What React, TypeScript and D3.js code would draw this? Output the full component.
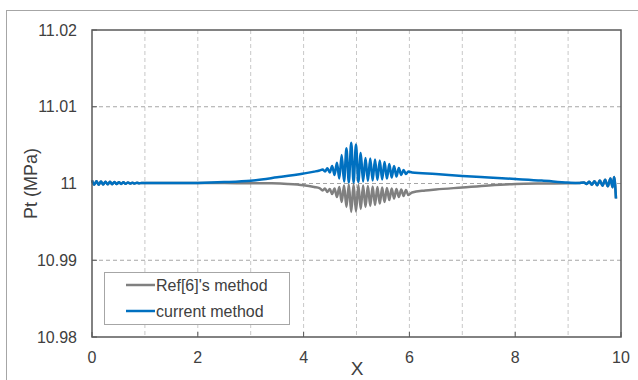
import React from "react";
import * as d3 from "d3";

// ---- data ----
const xTicks = [0, 2, 4, 6, 8, 10];
const xGrid = [1, 2, 3, 4, 5, 6, 7, 8, 9];
const yTicks = [10.98, 10.99, 11, 11.01, 11.02];
const yTickLabels = ["10.98", "10.99", "11", "11.01", "11.02"];
const seriesNames = ["Ref[6]'s method", "current method"];

// boundary oscillations (both methods coincide here)
const leftEdgeX = [0, 0.04, 0.085, 0.125, 0.17, 0.21, 0.255, 0.295, 0.34, 0.38, 0.425, 0.465, 0.51, 0.55, 0.595, 0.635, 0.68, 0.72, 0.765, 0.805, 0.85, 0.89, 0.935, 1.0];
const leftEdgeY = [11.0004, 10.99985, 11.00028, 10.99985, 11.00026, 10.99987, 11.00024, 10.99989, 11.00022, 10.99991, 11.0002, 10.99993, 11.00017, 10.99995, 11.00015, 10.99997, 11.00013, 10.99999, 11.00011, 11.00001, 11.00009, 11.00003, 11.00007, 11.00005];
const rightEdgeX = [9.2, 9.3, 9.35, 9.4, 9.45, 9.5, 9.55, 9.6, 9.65, 9.7, 9.75, 9.8, 9.84, 9.87, 9.905];
const rightEdgeY = [11.00006, 11.00013, 10.99995, 11.00022, 10.99985, 11.0003, 10.99978, 11.00038, 10.99972, 11.0005, 10.99963, 11.00065, 10.9995, 11.00085, 10.99805];

// current method (blue), interior
const currentX = [1.5, 2.0, 2.5, 3.0, 3.5, 4.0, 4.2, 4.3,
  4.36, 4.405, 4.45, 4.495, 4.54, 4.585, 4.63, 4.675, 4.72, 4.765, 4.81, 4.855, 4.9, 4.945, 4.99, 5.035,
  5.08, 5.125, 5.17, 5.215, 5.26, 5.305, 5.35, 5.395, 5.44, 5.485, 5.53, 5.575, 5.62, 5.665, 5.71, 5.755,
  5.8, 5.845, 5.89, 5.935, 5.98, 6.05, 6.5, 7.0, 7.5, 8.0, 8.5, 9.0];
const currentY = [11.00005, 11.00008, 11.00018, 11.00036, 11.0008, 11.0013, 11.00155, 11.0017,
  11.00182, 11.00156, 11.00198, 11.00143, 11.00228, 11.00111, 11.00271, 11.00065, 11.00371, 11.00026, 11.00459, 11.00013, 11.00532, 11.00013, 11.00508, 11.0002,
  11.00397, 11.00026, 11.00332, 11.00033, 11.00326, 11.00039, 11.00313, 11.00046, 11.003, 11.00052, 11.0028, 11.00065, 11.00254, 11.00078, 11.00228, 11.00091,
  11.00202, 11.00111, 11.00176, 11.00124, 11.00156, 11.00143, 11.00124, 11.00098, 11.00078, 11.00059, 11.00039, 11.00012];

// Ref[6]'s method (gray), interior
const refX = [1.5, 2.0, 2.5, 3.0, 3.4, 3.7, 4.0, 4.2, 4.3,
  4.36, 4.405, 4.45, 4.495, 4.54, 4.585, 4.63, 4.675, 4.72, 4.765, 4.81, 4.855, 4.9, 4.945, 4.99, 5.035,
  5.08, 5.125, 5.17, 5.215, 5.26, 5.305, 5.35, 5.395, 5.44, 5.485, 5.53, 5.575, 5.62, 5.665, 5.71, 5.755,
  5.8, 5.845, 5.89, 5.935, 5.98, 6.05, 6.3, 6.5, 7.0, 7.5, 8.0, 8.5, 9.0];
const refY = [11.00005, 11.00005, 11.00005, 11.00004, 11.00002, 10.99995, 10.99978, 10.99955, 10.9994,
  10.99909, 10.99935, 10.99889, 10.99928, 10.99863, 10.99935, 10.99824, 10.99954, 10.99759, 10.99974, 10.99694, 10.99987, 10.99629, 10.99987, 10.99635, 10.9998,
  10.99668, 10.99974, 10.99694, 10.99967, 10.99707, 10.99961, 10.9972, 10.99954, 10.99739, 10.99948, 10.99759, 10.99941, 10.99785, 10.99935, 10.99805, 10.99928,
  10.99824, 10.99922, 10.99837, 10.99915, 10.9985, 10.99883, 10.99909, 10.99922, 10.99948, 10.99974, 10.99993, 11.0, 11.00003];

const colors = ["#808080", "#0070C0"];

type Pt = [number, number];
const zip = (xs: number[], ys: number[]): Pt[] => xs.map((x, i) => [x, ys[i]] as Pt);

const refSeries: Pt[] = [...zip(leftEdgeX, leftEdgeY), ...zip(refX, refY), ...zip(rightEdgeX, rightEdgeY)];
const curSeries: Pt[] = [...zip(leftEdgeX, leftEdgeY), ...zip(currentX, currentY), ...zip(rightEdgeX, rightEdgeY)];

export default function App() {
  const W = 638, H = 380;
  const left = 92, right = 621, top = 30, bottom = 337;
  const x = d3.scaleLinear().domain([0, 10]).range([left, right]);
  const y = d3.scaleLinear().domain([10.98, 11.02]).range([bottom, top]);
  const line = d3.line<Pt>().x(d => x(d[0])).y(d => y(d[1])).curve(d3.curveMonotoneX);
  const font = "'Liberation Sans', Arial, sans-serif";
  const textColor = "#404040";

  return (
    <svg width={W} height={H} style={{ position: "absolute", left: 0, top: 0, background: "#fff" }} fontFamily={font}>
      <rect x={6.5} y={10.5} width={700} height={400} fill="#fff" stroke="#A6A6A6" strokeWidth={1} />
      {/* grid */}
      {xGrid.map(v => (
        <line key={"gx" + v} x1={x(v)} x2={x(v)} y1={top} y2={bottom} stroke="#C8C8C8" strokeWidth={1} strokeDasharray="4,3" />
      ))}
      {yTicks.slice(1, -1).map(v => (
        <line key={"gy" + v} x1={left} x2={right} y1={y(v)} y2={y(v)} stroke="#A6A6A6" strokeWidth={1} strokeDasharray="4,3" />
      ))}
      {/* ticks */}
      {xTicks.map(v => (
        <line key={"tx" + v} x1={x(v)} x2={x(v)} y1={bottom} y2={bottom - 5} stroke="#595959" strokeWidth={1} />
      ))}
      {yTicks.map(v => (
        <line key={"ty" + v} x1={left} x2={left + 5} y1={y(v)} y2={y(v)} stroke="#595959" strokeWidth={1} />
      ))}
      {/* series */}
      <path d={line(refSeries) || ""} fill="none" stroke={colors[0]} strokeWidth={2.5} strokeLinejoin="round" />
      <path d={line(curSeries) || ""} fill="none" stroke={colors[1]} strokeWidth={2.5} strokeLinejoin="round" />
      {/* frame */}
      <rect x={left} y={top} width={right - left} height={bottom - top} fill="none" stroke="#595959" strokeWidth={1.5} />
      {/* tick labels */}
      {xTicks.map(v => (
        <text key={"lx" + v} x={x(v)} y={363} textAnchor="middle" fontSize={16} fill={textColor}>{v}</text>
      ))}
      {yTicks.map((v, i) => (
        <text key={"ly" + v} x={77} y={y(v) + 5.5} textAnchor="end" fontSize={16} fill={textColor}>{yTickLabels[i]}</text>
      ))}
      <text x={357} y={375} textAnchor="middle" fontSize={19} fill={textColor}>X</text>
      <text transform={`translate(37,${(top + bottom) / 2}) rotate(-90)`} textAnchor="middle" fontSize={18} fill={textColor}>Pt (MPa)</text>
      {/* legend */}
      <rect x={104.5} y={272.5} width={185} height={52} fill="#fff" stroke="#A6A6A6" strokeWidth={1} />
      {seriesNames.map((n, i) => (
        <g key={n}>
          <line x1={126} x2={155} y1={285 + i * 26} y2={285 + i * 26} stroke={colors[i]} strokeWidth={2.5} />
          <text x={156} y={290.5 + i * 26} fontSize={16} fill={textColor}>{n}</text>
        </g>
      ))}
    </svg>
  );
}
